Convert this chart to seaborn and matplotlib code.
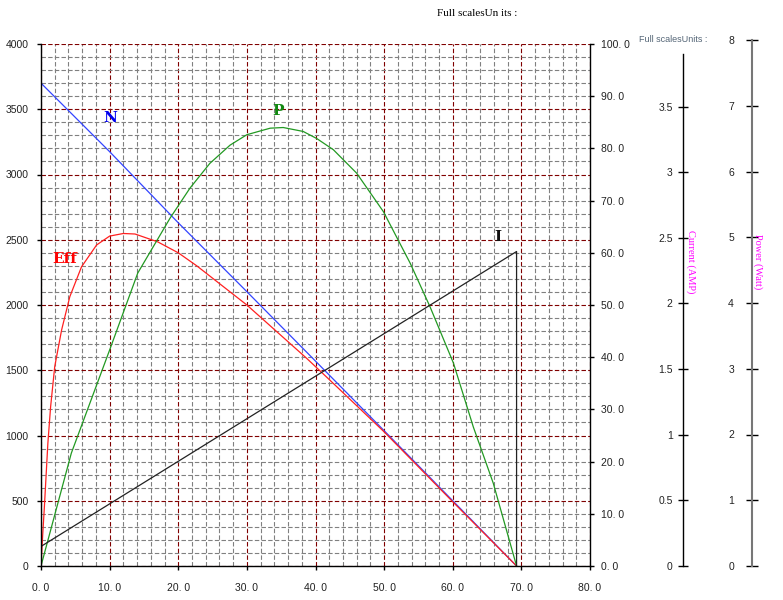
import numpy as np
import pandas as pd
import matplotlib
matplotlib.use("Agg")
import matplotlib.pyplot as plt
from matplotlib.ticker import MultipleLocator, FuncFormatter
import seaborn as sns

# ── Data ──────────────────────────────────────────────────
# torque axis values for each curve
n_torque = [0, 10, 20, 30, 40, 50, 60, 69.3]
n_speed = [3700, 3175, 2630, 2102, 1570, 1037, 500, 0]            # rpm

eff_torque = [0, 0.25, 0.5, 1.0, 1.4, 2.0, 3.0, 4.2, 5.9, 8.1, 10, 12, 13.7,
              17, 20, 22.7, 30, 38.7, 42.1, 50, 60, 69.3]
eff_pct = [0, 6, 11.5, 23.5, 30.5, 38.2, 45.2, 51.6, 57.3, 61.5, 63.2, 63.7, 63.6,
           62.1, 60.0, 57.5, 50.0, 39.8, 35.6, 25.7, 12.3, 0]        # %

p_torque = [0, 4.42, 10, 14.1, 18.8, 21.7, 24.6, 27.55, 30, 33.4, 35.3, 38.2,
            40.2, 42.6, 46, 49.9, 53.8, 56.7, 60.1, 63, 65.9, 69.3]
p_watt = [0, 1.73, 3.31, 4.49, 5.33, 5.79, 6.17, 6.45, 6.61, 6.71, 6.72, 6.66,
          6.55, 6.38, 6.02, 5.43, 4.64, 3.97, 3.11, 2.13, 1.27, 0]   # W

i_torque = [0, 69.3, 69.3]
i_amp = [0.15, 2.41, 0]                                              # A

# scale factors onto the 0-4000 main axis
EFF_K, P_K, I_K = 40, 500, 1000

# ── Style ─────────────────────────────────────────────────
sns.set_theme(style="ticks")
plt.rcParams["font.family"] = ["Liberation Sans", "DejaVu Sans"]
MAJ = "#800000"
MIN = "#808080"
DASH = (0, (4, 2))

fig = plt.figure(figsize=(7.83, 6.0), dpi=100)
fig.patch.set_facecolor("white")
ax = fig.add_axes([41 / 783, 34 / 600, 549 / 783, 522 / 600])
ax.set_facecolor("white")

def draw(x, y, color, lw=0.9):
    df = pd.DataFrame({"x": x, "y": y})
    sns.lineplot(data=df, x="x", y="y", ax=ax, color=color, linewidth=lw,
                 estimator=None, sort=False)

draw(n_torque, n_speed, "#3344ff")
draw(eff_torque, np.array(eff_pct) * EFF_K, "#ff2020")
draw(p_torque, np.array(p_watt) * P_K, "#229922")
draw(i_torque, np.array(i_amp) * I_K, "#222222")

ax.set_xlim(0, 80)
ax.set_ylim(0, 4000)
ax.xaxis.set_major_locator(MultipleLocator(10))
ax.xaxis.set_minor_locator(MultipleLocator(2))
ax.yaxis.set_major_locator(MultipleLocator(500))
ax.yaxis.set_minor_locator(MultipleLocator(100))
ax.grid(which="minor", color=MIN, linestyle=DASH, linewidth=0.8)
ax.grid(which="major", color=MAJ, linestyle=DASH, linewidth=0.8)
ax.set_axisbelow(True)
ax.xaxis.set_major_formatter(FuncFormatter(lambda v, _: f"{v:.1f}".replace(".", ". ")))
ax.tick_params(which="minor", length=0)
ax.tick_params(which="major", direction="out", length=3, width=1, color="black",
               labelsize=7.5, labelcolor="#222222")
ax.tick_params(axis="x", pad=9)
ax.tick_params(axis="y", pad=6)
ax.set_xlabel("")
ax.set_ylabel("")
for s in ["top", "right"]:
    ax.spines[s].set_visible(False)
for s in ["left", "bottom"]:
    ax.spines[s].set_color("black")
    ax.spines[s].set_linewidth(1)

# efficiency scale on the right
ax2 = ax.twinx()
ax2.set_ylim(0, 100)
ax2.yaxis.set_major_locator(MultipleLocator(10))
ax2.yaxis.set_major_formatter(FuncFormatter(lambda v, _: f"{v:.1f}".replace(".", ". ")))
ax2.tick_params(direction="out", length=3, width=1, color="black", labelsize=7.5,
                labelcolor="#222222", pad=5)
for s in ["top", "left", "bottom"]:
    ax2.spines[s].set_visible(False)
ax2.spines["right"].set_color("black")
ax2.spines["right"].set_linewidth(1)
ax2.grid(False)

# curve labels
lab = dict(family="DejaVu Serif", fontweight="bold", fontsize=11, ha="center", va="center")
ax.text(10.06, 3433, "N", color="#0000ee", **lab)
ax.text(34.5, 3487, "P", color="#118811", **lab)
ax.text(3.45, 2352, "Eff", color="#ff0000", **lab)
ax.text(66.6, 2519, "I", color="#111111", **lab)

# current scale
ax3 = fig.add_axes([683 / 783, 34 / 600, 0.0001, 512 / 600])
ax3.set_ylim(0, 3.9)
ax3.set_yticks(np.arange(0, 3.6, 0.5))
ax3.yaxis.set_major_formatter(FuncFormatter(lambda v, _: f"{v:g}"))
ax3.tick_params(axis="y", direction="inout", length=7, width=1, color="black",
                labelsize=7.5, labelcolor="#222222", pad=4)
ax3.set_xticks([])
for s in ["top", "right", "bottom"]:
    ax3.spines[s].set_visible(False)
ax3.spines["left"].set_color("black")
ax3.spines["left"].set_linewidth(1)
ax3.patch.set_alpha(0)

# power scale
ax4 = fig.add_axes([752 / 783, 34 / 600, 0.0001, 526 / 600])
ax4.set_ylim(0, 8)
ax4.set_yticks(np.arange(0, 9, 1))
ax4.tick_params(axis="y", direction="inout", length=8, width=1, color="black",
                labelsize=7.5, labelcolor="#222222", pad=9)
ax4.set_xticks([])
for s in ["top", "right", "bottom"]:
    ax4.spines[s].set_visible(False)
ax4.spines["left"].set_color("#777777")
ax4.spines["left"].set_linewidth(1.5)
ax4.patch.set_alpha(0)

# texts
fig.text(477 / 783, 1 - 13 / 600, "Full scalesUn its :", family="Liberation Serif",
         fontsize=8, color="black", ha="center", va="center")
fig.text(673 / 783, 1 - 40 / 600, "Full scalesUnits :", fontsize=6.5, color="#556677",
         ha="center", va="center")
fig.text(691 / 783, 1 - 262 / 600, "Current (AMP)", family="Liberation Serif",
         fontsize=7.5, color="#ff00ff", rotation=270, ha="center", va="center")
fig.text(758 / 783, 1 - 262 / 600, "Power (Watt)", family="Liberation Serif",
         fontsize=7.5, color="#ff00ff", rotation=270, ha="center", va="center")

fig.savefig("out.png", dpi=100)
plt.close(fig)
